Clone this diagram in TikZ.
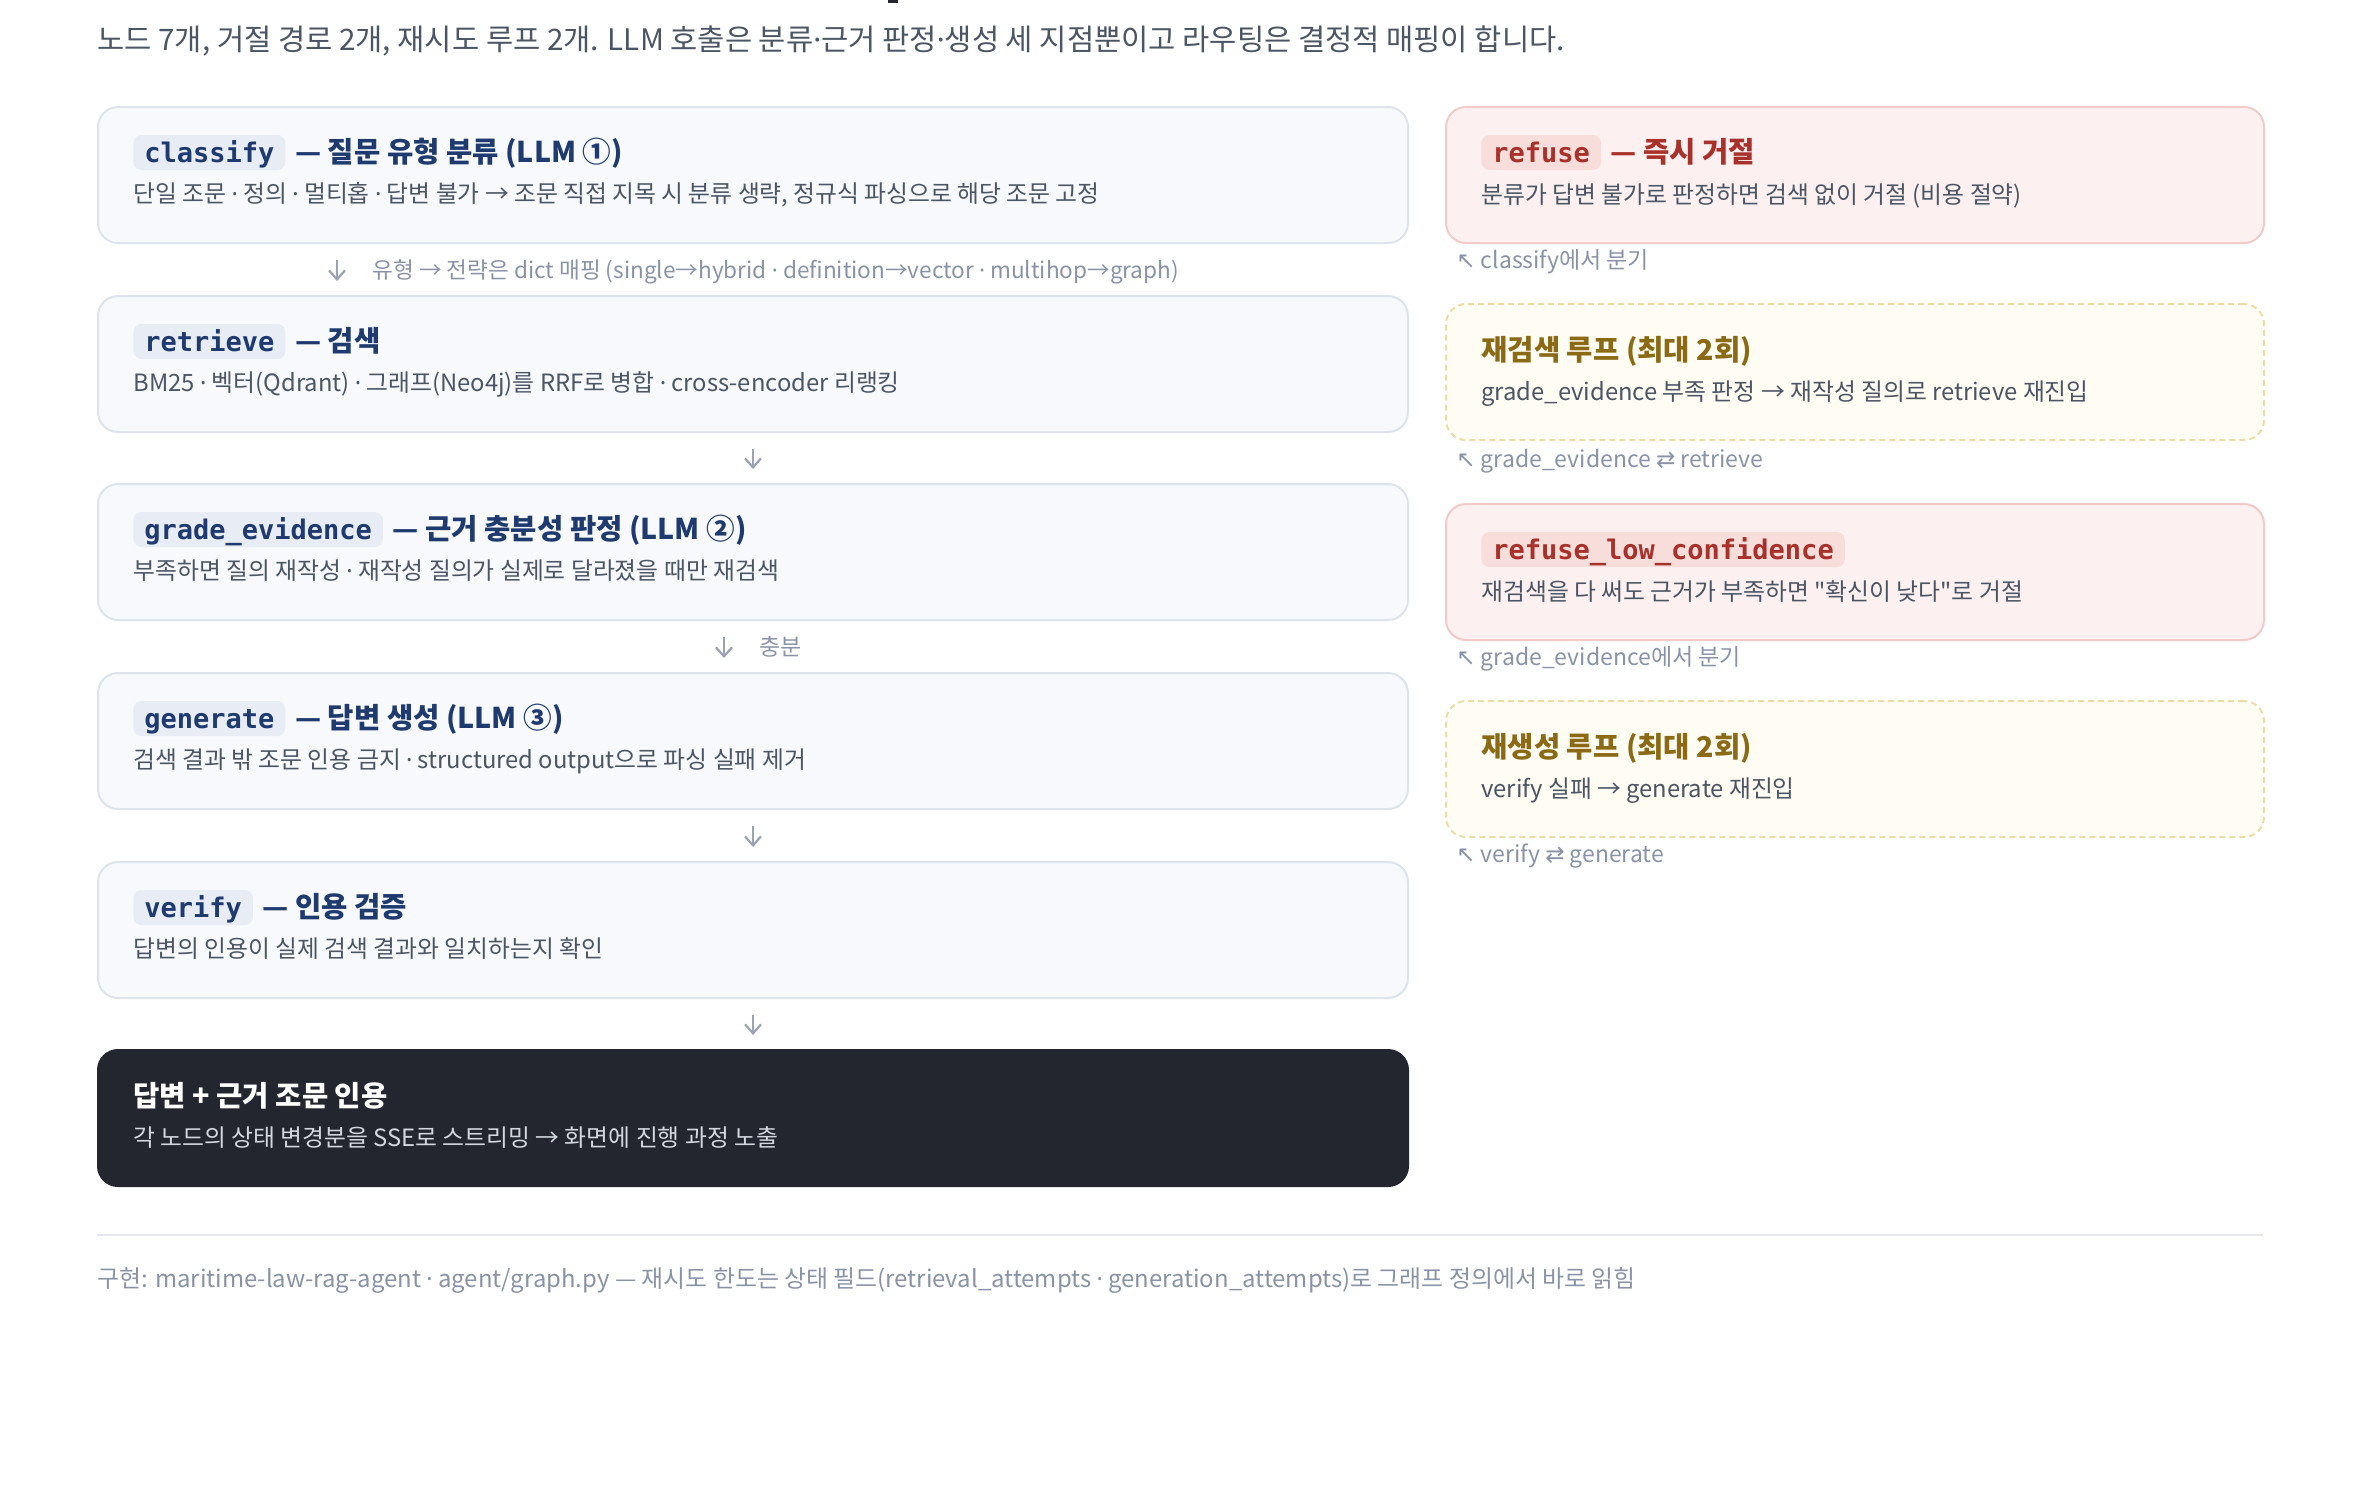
\documentclass[tikz,border=0pt]{standalone}
\usepackage{fontspec}
\usepackage{tikz}
\usetikzlibrary{arrows.meta}
\setmainfont{Noto Sans CJK KR}
\newfontfamily\codefont{DejaVu Sans Mono}
\newfontfamily\symfont{DejaVu Sans}
\newfontfamily\latinfont{Noto Sans}
\newcommand\md{{\latinfont ·}}

\definecolor{navyc}{HTML}{1E3A6E}
\definecolor{pillblue}{HTML}{E7ECF5}
\definecolor{boxfill}{HTML}{F7F9FC}
\definecolor{boxline}{HTML}{DFE3EC}
\definecolor{bodygray}{HTML}{4B5563}
\definecolor{notegray}{HTML}{8A93A6}
\definecolor{arrowgray}{HTML}{9AA3B5}
\definecolor{redtext}{HTML}{A8322B}
\definecolor{redfill}{HTML}{FCF1F0}
\definecolor{redline}{HTML}{F0CBC8}
\definecolor{redpillc}{HTML}{F7DEDB}
\definecolor{goldtext}{HTML}{8A6A14}
\definecolor{goldfill}{HTML}{FFFCF3}
\definecolor{goldline}{HTML}{EBDDA8}
\definecolor{darkfill}{HTML}{23262F}
\definecolor{darktext}{HTML}{D3D7DE}
\definecolor{ruleline}{HTML}{E5E8EE}

\tikzset{
  nodebox/.style={draw=boxline, fill=boxfill, line width=1pt, rounded corners=10pt, minimum width=655pt, minimum height=68pt, anchor=north west, inner sep=0pt},
  refusebox/.style={nodebox, draw=redline, fill=redfill, minimum width=409pt},
  loopbox/.style={nodebox, draw=goldline, fill=goldfill, dash pattern=on 3pt off 2pt, minimum width=409pt},
  outbox/.style={nodebox, draw=darkfill, fill=darkfill},
  pill/.style={rounded corners=4pt, inner xsep=5.5pt, inner ysep=1pt, text height=12.5pt, text depth=3pt, anchor=base west, font=\codefont\bfseries\fontsize{13.5pt}{16pt}\selectfont},
  bluepill/.style={pill, fill=pillblue, text=navyc},
  redpill/.style={pill, fill=redpillc, text=redtext},
  nodetitle/.style={anchor=base west, inner sep=0pt, font=\bfseries\fontsize{14.3pt}{17pt}\selectfont},
  desc/.style={anchor=base west, inner sep=0pt, text=bodygray, font=\fontsize{11.9pt}{14pt}\selectfont},
  note/.style={anchor=base west, inner sep=0pt, text=notegray, font=\fontsize{11.5pt}{14pt}\selectfont},
  flow/.style={draw=arrowgray, line width=1.1pt, -{Straight Barb[length=4.5pt,width=8pt]}, shorten <=8pt, shorten >=7pt}
}

\begin{document}
\begin{tikzpicture}[x=0.5pt,y=-0.5pt]
\useasboundingbox (0,0) rectangle (2360,1490);
\fill[darkfill] (888,0) rectangle (898,3);
\node[anchor=base west, inner sep=0pt, text=bodygray, font=\fontsize{14.8pt}{17pt}\selectfont] (sub) at (97,50) {노드 7개, 거절 경로 2개, 재시도 루프 2개. LLM 호출은 분류\md 근거 판정\md 생성 세 지점뿐이고 라우팅은 결정적 매핑이 합니다.};

\node[nodebox] (c) at (97,106) {}; \node[bluepill] (cp) at (133,162) {classify}; \node[nodetitle, text=navyc] (ct) at ([xshift=4.5pt]cp.base east) {— 질문 유형 분류 (LLM ①)}; \node[desc] (cd) at (133,202) {단일 조문 \md{} 정의 \md{} 멀티홉 \md{} 답변 불가 → 조문 직접 지목 시 분류 생략, 정규식 파싱으로 해당 조문 고정};
\node[nodebox] (r) at (97,295) {}; \node[bluepill] (rp) at (133,351) {retrieve}; \node[nodetitle, text=navyc] (rt) at ([xshift=4.5pt]rp.base east) {— 검색}; \node[desc] (rd) at (133,391) {BM25 \md{} 벡터(Qdrant) \md{} 그래프(Neo4j)를 RRF로 병합 \md{} cross-encoder 리랭킹};
\node[nodebox] (g) at (97,483) {}; \node[bluepill] (gp) at (133,539) {grade\_evidence}; \node[nodetitle, text=navyc] (gt) at ([xshift=4.5pt]gp.base east) {— 근거 충분성 판정 (LLM ②)}; \node[desc] (gd) at (133,579) {부족하면 질의 재작성 \md{} 재작성 질의가 실제로 달라졌을 때만 재검색};
\node[nodebox] (n) at (97,672) {}; \node[bluepill] (np) at (133,728) {generate}; \node[nodetitle, text=navyc] (nt) at ([xshift=4.5pt]np.base east) {— 답변 생성 (LLM ③)}; \node[desc] (nd) at (133,768) {검색 결과 밖 조문 인용 금지 \md{} structured output으로 파싱 실패 제거};
\node[nodebox] (v) at (97,861) {}; \node[bluepill] (vp) at (133,917) {verify}; \node[nodetitle, text=navyc] (vt) at ([xshift=4.5pt]vp.base east) {— 인용 검증}; \node[desc] (vd) at (133,957) {답변의 인용이 실제 검색 결과와 일치하는지 확인};
\node[outbox] (o) at (97,1049) {}; \node[nodetitle, text=white] (ot) at (133,1106) {답변 + 근거 조문 인용}; \node[desc, text=darktext] (od) at (133,1146) {각 노드의 상태 변경분을 SSE로 스트리밍 → 화면에 진행 과정 노출};

\node[refusebox] (f) at (1445,106) {}; \node[redpill] (fp) at (1481,162) {refuse}; \node[nodetitle, text=redtext] (ft) at ([xshift=4.5pt]fp.base east) {— 즉시 거절}; \node[desc] (fd) at (1481,203) {분류가 답변 불가로 판정하면 검색 없이 거절 (비용 절약)};
\node[note] (fn) at (1456,268) {{\symfont ↖} classify에서 분기};
\node[loopbox] (l1) at (1445,303) {}; \node[nodetitle, text=goldtext] (l1t) at (1481,360) {재검색 루프 (최대 2회)}; \node[desc] (l1d) at (1481,400) {grade\_evidence 부족 판정 → 재작성 질의로 retrieve 재진입};
\node[note] (l1n) at (1456,467) {{\symfont ↖} grade\_evidence {\symfont ⇄} retrieve};
\node[refusebox] (h) at (1445,503) {}; \node[redpill] (hp) at (1481,559) {refuse\_low\_confidence}; \node[desc] (hd) at (1481,600) {재검색을 다 써도 근거가 부족하면 \textquotedbl 확신이 낮다\textquotedbl 로 거절};
\node[note] (hn) at (1456,665) {{\symfont ↖} grade\_evidence에서 분기};
\node[loopbox] (l2) at (1445,700) {}; \node[nodetitle, text=goldtext] (l2t) at (1481,757) {재생성 루프 (최대 2회)}; \node[desc] (l2d) at (1481,797) {verify 실패 → generate 재진입};
\node[note] (l2n) at (1456,862) {{\symfont ↖} verify {\symfont ⇄} generate};

\coordinate (a1) at (337,0); \coordinate (a2) at (724,0);
\node[note, font=\fontsize{11.3pt}{14pt}\selectfont] (e1) at (372,278) {유형 → 전략은 dict 매핑 (single→hybrid \md{} definition→vector \md{} multihop→graph)};
\node[note] (e2) at (759,655) {충분};
\draw[flow] (c.south -| a1) -- (r.north -| a1);
\draw[flow] (r) -- (g);
\draw[flow] (g.south -| a2) -- (n.north -| a2);
\draw[flow] (n) -- (v);
\draw[flow] (v) -- (o);

\draw[ruleline, line width=1pt] (97,1235) -- (2263,1235);
\node[note, font=\fontsize{11.95pt}{14pt}\selectfont] (foot) at (97,1287) {구현: maritime-law-rag-agent \md{} agent/graph.py — 재시도 한도는 상태 필드(retrieval\_attempts \md{} generation\_attempts)로 그래프 정의에서 바로 읽힘};
\end{tikzpicture}
\end{document}
